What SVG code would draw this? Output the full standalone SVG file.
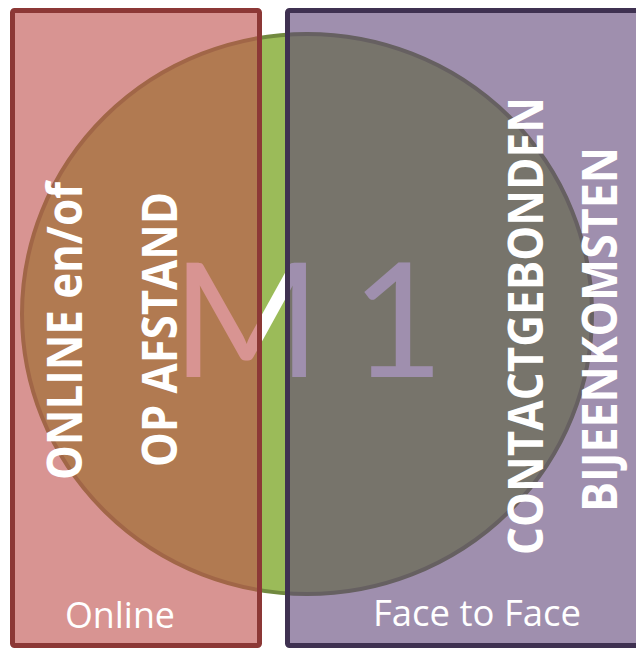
<svg xmlns="http://www.w3.org/2000/svg" width="636" height="648" viewBox="0 0 636 648">
  <style>
    .vt { font-family: "Open Sans", "Noto Sans", sans-serif; font-weight: bold; font-size: 48px; fill: #ffffff; }
    .lbl { font-family: "Open Sans", "Noto Sans", sans-serif; font-size: 36px; fill: #ffffff; }
    .big { font-family: "Lato", "Open Sans", sans-serif; font-size: 160px; fill: #ffffff; }
  </style>
  <rect x="0" y="0" width="636" height="648" fill="#ffffff"/>
  <g id="circle">
    <ellipse cx="307" cy="314" rx="285" ry="280" fill="#9BBB59" stroke="#71893F" stroke-width="4"/>
  </g>
  <g id="m1">
    <text class="big" x="172" y="377" textLength="272" lengthAdjust="spacing">M 1</text>
  </g>
  <g id="online-box">
    <rect x="12.5" y="10.5" width="247" height="635" rx="2" fill="#C0504D" fill-opacity="0.61" stroke="#8C3836" stroke-width="5"/>
  </g>
  <g id="f2f-box">
    <rect x="287.5" y="10.5" width="360" height="635" rx="2" fill="#5F4478" fill-opacity="0.6" stroke="#3F3151" stroke-width="5"/>
  </g>
  <g id="texts">
    <text class="vt" transform="translate(82,480) rotate(-90)" textLength="298" lengthAdjust="spacingAndGlyphs">ONLINE en/of</text>
    <text class="vt" transform="translate(177,467) rotate(-90)" textLength="275" lengthAdjust="spacingAndGlyphs">OP AFSTAND</text>
    <text class="vt" transform="translate(543,555) rotate(-90)" textLength="458" lengthAdjust="spacingAndGlyphs">CONTACTGEBONDEN</text>
    <text class="vt" transform="translate(617,512) rotate(-90)" textLength="365" lengthAdjust="spacingAndGlyphs">BIJEENKOMSTEN</text>
    <text class="lbl" x="65" y="628" textLength="110" lengthAdjust="spacingAndGlyphs">Online</text>
    <text class="lbl" x="373" y="626" textLength="208" lengthAdjust="spacingAndGlyphs">Face to Face</text>
  </g>
</svg>
